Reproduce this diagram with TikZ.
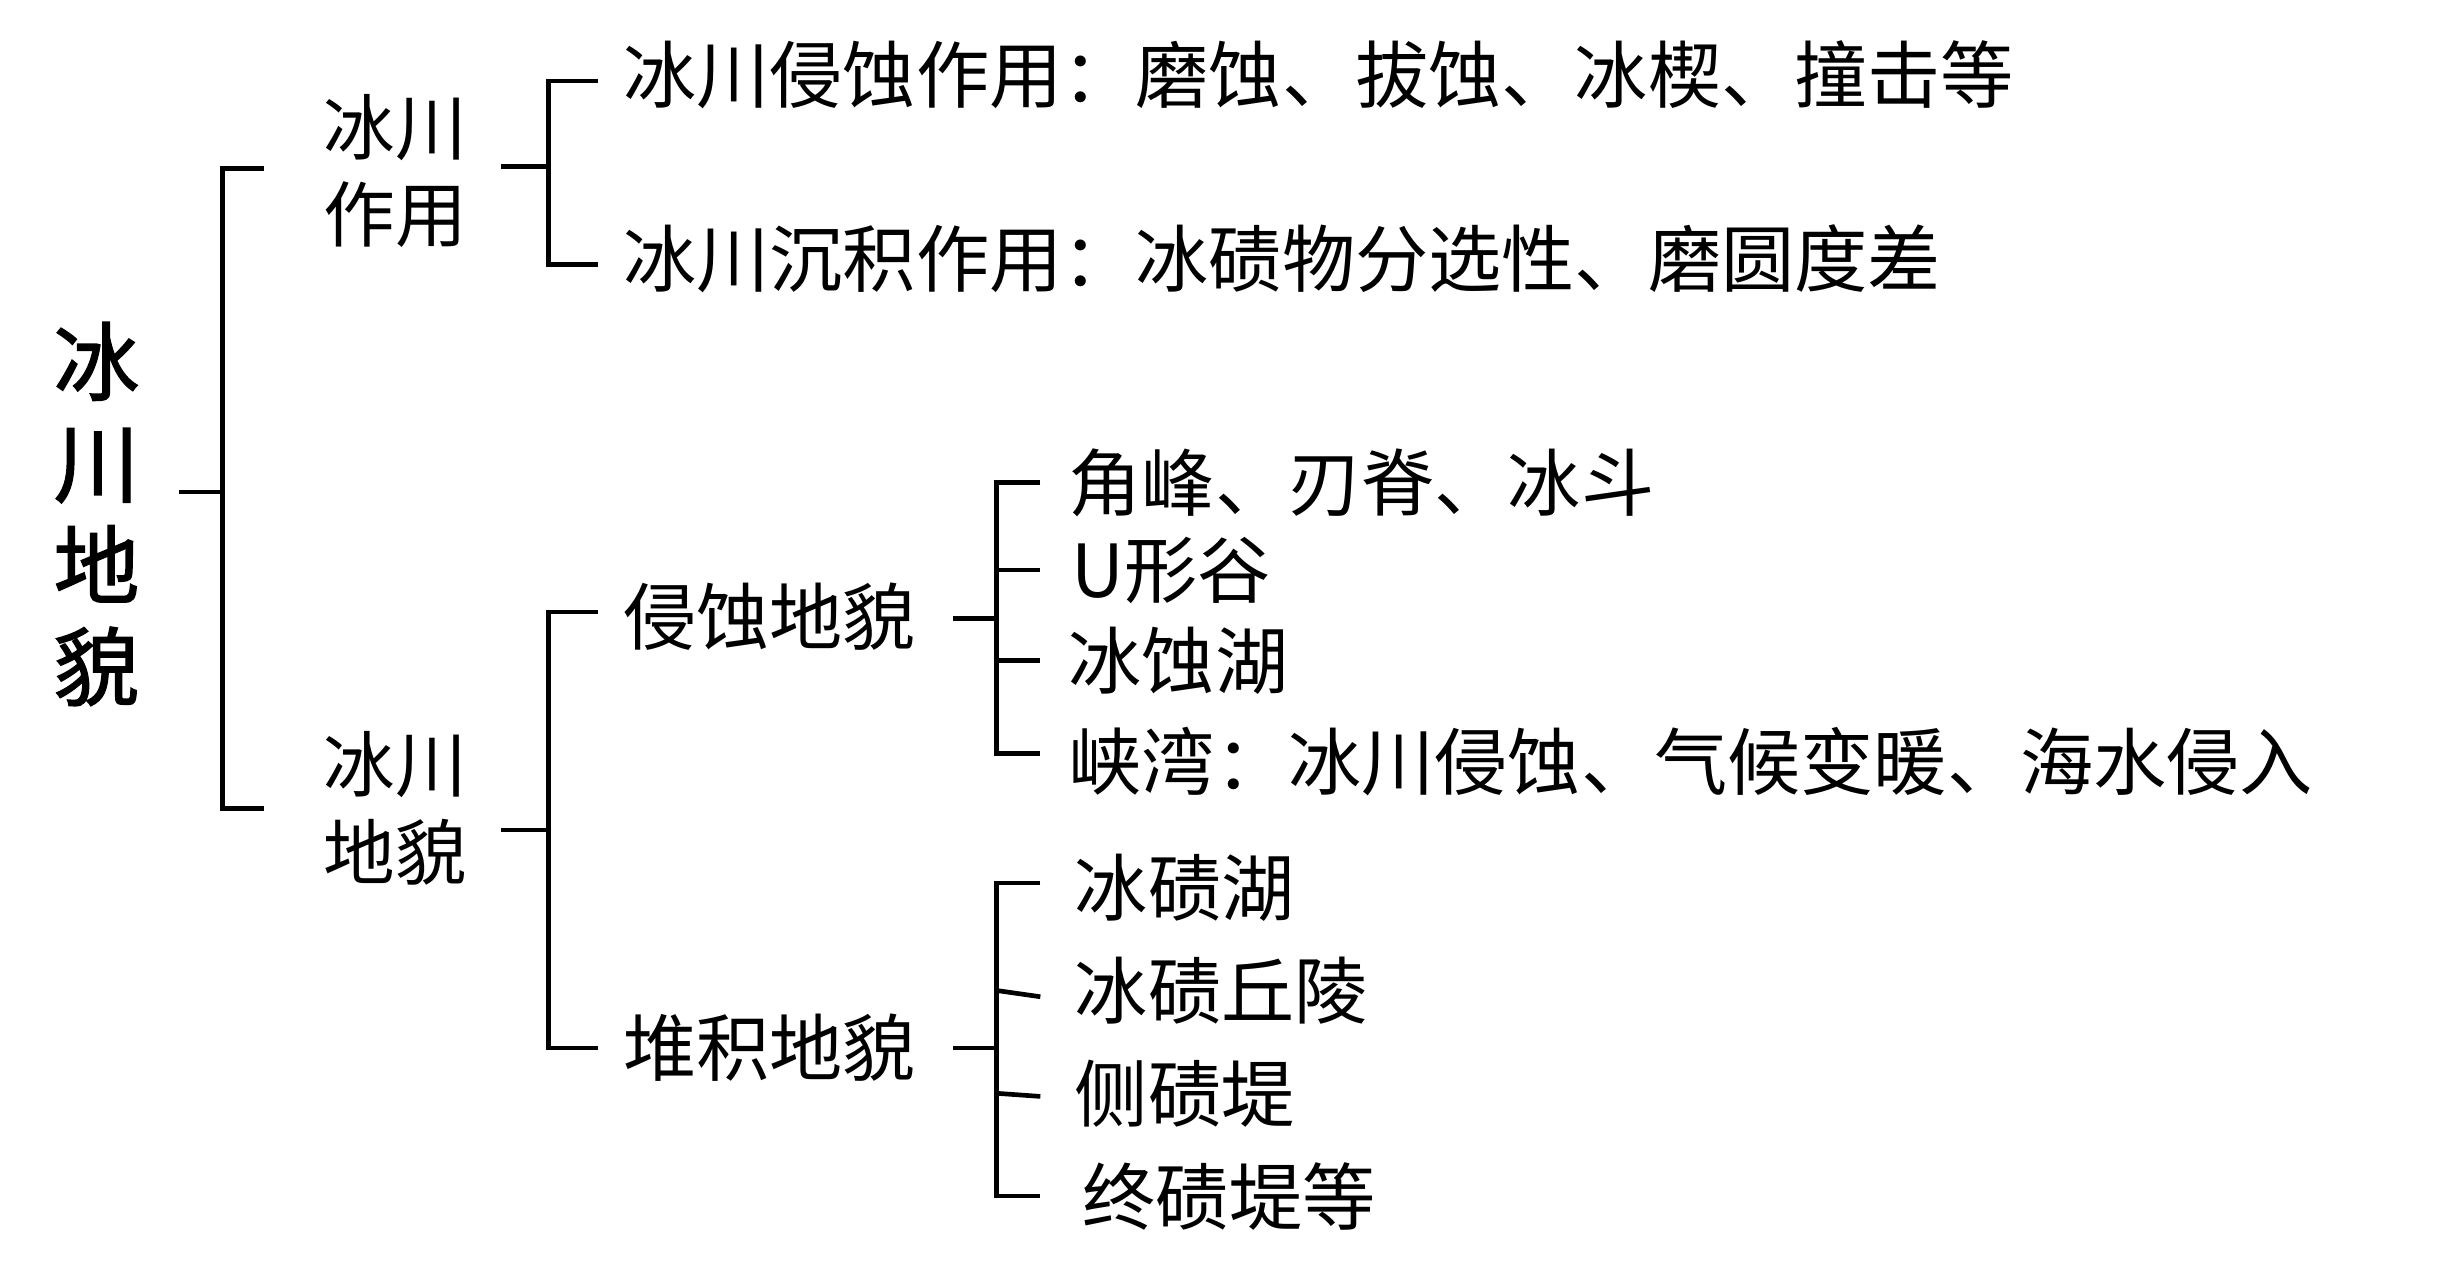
\documentclass[tikz,border=0pt]{standalone}
\usepackage{fontspec}
\newfontfamily\cjk{Noto Sans CJK SC}
\newfontfamily\cjktitle[FakeBold=1.6]{Noto Sans CJK SC}
\begin{document}
\begin{tikzpicture}[x=1pt,y=-1pt,
  br/.style={line width=3pt,line cap=butt,line join=miter},
  txt/.style={anchor=west,inner sep=0pt,font={\cjk\fontsize{47}{56}\selectfont}},
  mid/.style={inner sep=0pt,align=center,font={\cjk\fontsize{46}{56}\selectfont}},
  ttl/.style={inner sep=0pt,align=center,font={\cjktitle\fontsize{55}{65.3}\selectfont}}]
\useasboundingbox (0,0) rectangle (1568,822);
\fill[white] (0,0) rectangle (1568,822);
% nodes
\node[ttl] (title) at (62,330) {冰\\川\\地\\貌};
\node[mid] (zy) at (254,110) {冰川\\作用};
\node[mid] (dm) at (254,519) {冰川\\地貌};
\node[txt] (e1) at (400,48) {冰川侵蚀作用：磨蚀、拔蚀、冰楔、撞击等};
\node[txt] (e2) at (400,166) {冰川沉积作用：冰碛物分选性、磨圆度差};
\node[txt] (qs) at (400,396) {侵蚀地貌};
\node[txt] (dj) at (400,673) {堆积地貌};
\node[txt] (a1) at (686,310) {角峰、刃脊、冰斗};
\node[txt] (a2) at (688,366) {U形谷};
\node[txt] (a3) at (686,424) {冰蚀湖};
\node[txt] (a4) at (686,489) {峡湾：冰川侵蚀、气候变暖、海水侵入};
\node[txt] (b1) at (690,570) {冰碛湖};
\node[txt] (b2) at (690,636) {冰碛丘陵};
\node[txt] (b3) at (690,702) {侧碛堤};
\node[txt] (b4) at (695,768) {终碛堤等};
% junctions
\coordinate (j1) at (143,316);
\coordinate (j2) at (352,107);
\coordinate (j3) at (352,533);
\coordinate (j4) at (640,397);
\coordinate (j5) at (640,673);
% level 1
\draw[br] (j1) -- ++(-28,0);
\draw[br] ([xshift=-38pt,yshift=2pt]zy.west) -| (j1) |- ([xshift=-38pt]dm.west);
% level 2 top
\draw[br] (j2) -- ++(-30,0);
\draw[br] ([xshift=-16pt,yshift=-4pt]e1.west) -| (j2) |- ([xshift=-16pt,yshift=-4pt]e2.west);
% level 2 bottom
\draw[br] (j3) -- ++(-30,0);
\draw[br] ([xshift=-16pt,yshift=3pt]qs.west) -| (j3) |- ([xshift=-16pt]dj.west);
% level 3 erosion
\draw[br] (j4) -- ++(-28,0);
\draw[br] ([xshift=-18pt]a1.west) -| (j4) |- ([xshift=-18pt,yshift=5pt]a4.west);
\draw[br] (j4 |- a2.west) -- ([xshift=-20pt]a2.west);
\draw[br] (j4 |- a3.west) -- ([xshift=-18pt]a3.west);
% level 3 deposition
\draw[br] (j5) -- ++(-28,0);
\draw[br] ([xshift=-22pt,yshift=3pt]b1.west) -| (j5) |- ([xshift=-27pt]b4.west);
\draw[br] (j5 |- b2.west) -- ([xshift=-22pt,yshift=-4pt]b2.west);
\draw[br] (j5 |- b3.west) -- ([xshift=-22pt,yshift=-2pt]b3.west);
\end{tikzpicture}
\end{document}
